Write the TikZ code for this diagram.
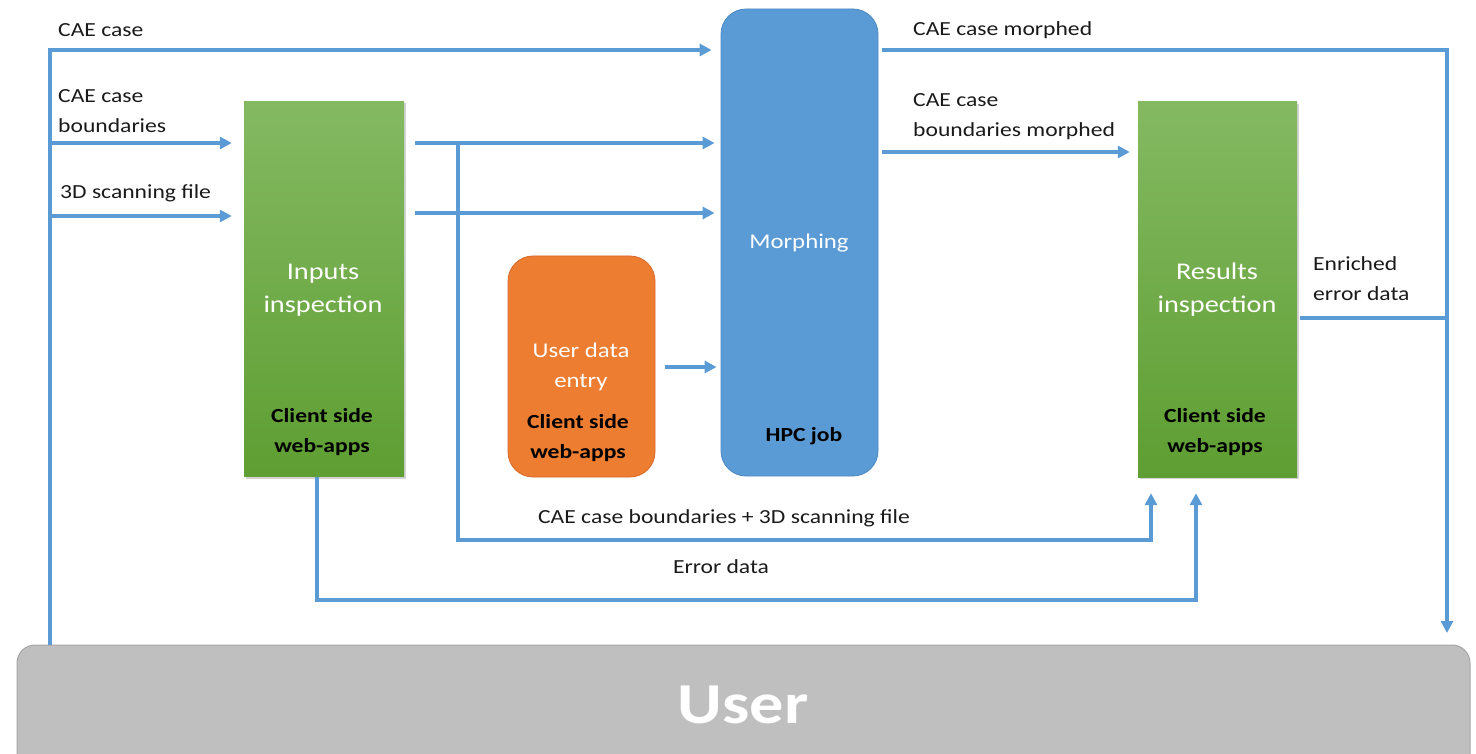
\documentclass[tikz,border=0pt]{standalone}
\usepackage{fontspec}
\setmainfont[FakeStretch=1.18]{Carlito}
\usetikzlibrary{arrows.meta,shadows}
\definecolor{lineblue}{HTML}{5B9BD5}
\definecolor{hpcblue}{HTML}{5B9BD5}
\definecolor{hpcedge}{HTML}{4A89C2}
\definecolor{orangebox}{HTML}{ED7D31}
\definecolor{orangeedge}{HTML}{D7692A}
\definecolor{greentop}{HTML}{84B962}
\definecolor{greenbot}{HTML}{5E9E32}
\definecolor{usergray}{HTML}{BFBFBF}
\definecolor{useredge}{HTML}{A6A6A6}
\definecolor{labeltext}{HTML}{1A1A1A}
\begin{document}
\begin{tikzpicture}[x=1pt,y=1pt,
  flow/.style={draw=lineblue, line width=3.3pt, -{Triangle[length=12pt,width=12pt]}},
  plainline/.style={draw=lineblue, line width=3.3pt},
  greenbox/.style={rectangle, minimum width=160pt, minimum height=375pt, inner sep=0pt,
    top color=greentop, bottom color=greenbot, draw=none,
    drop shadow={opacity=0.35, shadow xshift=2pt, shadow yshift=-2pt}},
  lbl/.style={font=\fontsize{20}{30}\selectfont, text=labeltext, align=left, inner sep=0pt, anchor=west},
  clbl/.style={font=\fontsize{20}{30}\selectfont, text=labeltext, align=center, inner sep=0pt},
  titletext/.style={font=\fontsize{24}{33}\selectfont, text=white, align=center, inner sep=0pt},
  subtext/.style={font=\fontsize{20}{30}\selectfont\bfseries, text=black, align=center, inner sep=0pt},
]
\useasboundingbox (0,0) rectangle (1476,-754);
\clip (0,0) rectangle (1476,-754);

% boxes
\node[greenbox] (inputs) at (324,-289) {};
\node[greenbox, minimum width=159pt] (results) at (1217.5,-289.5) {};
\node[rectangle, rounded corners=25pt, fill=orangebox, draw=orangeedge, line width=0.8pt,
      minimum width=147pt, minimum height=221pt, inner sep=0pt] (entry) at (581.5,-366.5) {};
\node[rectangle, rounded corners=25pt, fill=hpcblue, draw=hpcedge, line width=0.8pt,
      minimum width=157pt, minimum height=467pt, inner sep=0pt] (hpc) at (799.5,-242.5) {};
\node[rectangle, rounded corners=18pt, fill=usergray, draw=useredge, line width=1pt,
      minimum width=1453pt, minimum height=160pt, inner sep=0pt] (user) at (743.5,-725) {};

% box texts
\node[titletext] (inputsT) at (323,-290) {Inputs\\inspection};
\node[subtext] (inputsS) at (322,-432) {Client side\\web-apps};
\node[titletext] (resultsT) at (1217,-290) {Results\\inspection};
\node[subtext] (resultsS) at (1215,-432) {Client side\\web-apps};
\node[titletext, font=\fontsize{21}{30}\selectfont] (entryT) at (581,-367) {User data\\entry};
\node[subtext] (entryS) at (578,-438) {Client side\\web-apps};
\node[titletext, font=\fontsize{21}{30}\selectfont] (hpcT) at (799,-243) {Morphing};
\node[subtext] (hpcS) at (804,-436) {HPC job};
\node[font=\fontsize{58}{58}\selectfont\bfseries, text=white, inner sep=0pt] (userT) at (743,-705) {User};

% coordinates for connectors
\coordinate (ltop) at (50,-50);
\coordinate (lbound) at (50,-143);
\coordinate (lscan) at (50,-216);
\coordinate (lbot) at (50,-645);
\coordinate (iout1) at (415,-143);
\coordinate (iout2) at (415,-213);
\coordinate (branch) at (458,-143);
\coordinate (branchbot) at (458,-540);
\coordinate (branchend) at (1151,-540);
\coordinate (errtop) at (317,-477);
\coordinate (errbot) at (317,-600);
\coordinate (errend) at (1196,-600);
\coordinate (rtop) at (1447,-50);
\coordinate (rbot) at (1447,-633);
\coordinate (rmid) at (1447,-318);
\coordinate (resout) at (1300,-318);
\coordinate (hpcout1) at (882,-50);
\coordinate (hpcout2) at (882,-152);
\coordinate (entryout) at (665,-367);

% connectors
\draw[flow] (lbot) -- (ltop) -- ([xshift=-9pt]hpc.west |- ltop);
\draw[flow] (lbound) -- ([xshift=-12pt]inputs.west |- lbound);
\draw[flow] (lscan) -- ([xshift=-12pt]inputs.west |- lscan);
\draw[flow] (iout1) -- ([xshift=-6pt]hpc.west |- iout1);
\draw[flow] (iout2) -- ([xshift=-6pt]hpc.west |- iout2);
\draw[flow] (entryout) -- ([xshift=-4pt]hpc.west |- entryout);
\draw[flow] (hpcout1) -- (rtop) -- (rbot);
\draw[flow] (hpcout2) -- ([xshift=-8pt]results.west |- hpcout2);
\draw[plainline] (resout) -- (rmid);
\draw[flow] (branch) -- (branchbot) -- (branchend) -- ([yshift=-16pt]results.south -| branchend);
\draw[flow] (errtop) -- (errbot) -- (errend) -- ([yshift=-16pt]results.south -| errend);

% labels
\node[lbl] (l1) at (58,-30) {CAE case};
\node[lbl] (l2) at (58,-111) {CAE case\\boundaries};
\node[lbl] (l3) at (60,-193) {3D scanning file};
\node[lbl] (l4) at (913,-30) {CAE case morphed};
\node[lbl] (l5) at (913,-117) {CAE case\\boundaries morphed};
\node[lbl] (l6) at (1313,-279) {Enriched\\error data};
\node[clbl] (l7) at (724,-518) {CAE case boundaries + 3D scanning file};
\node[clbl] (l8) at (721,-567) {Error data};
\end{tikzpicture}
\end{document}
